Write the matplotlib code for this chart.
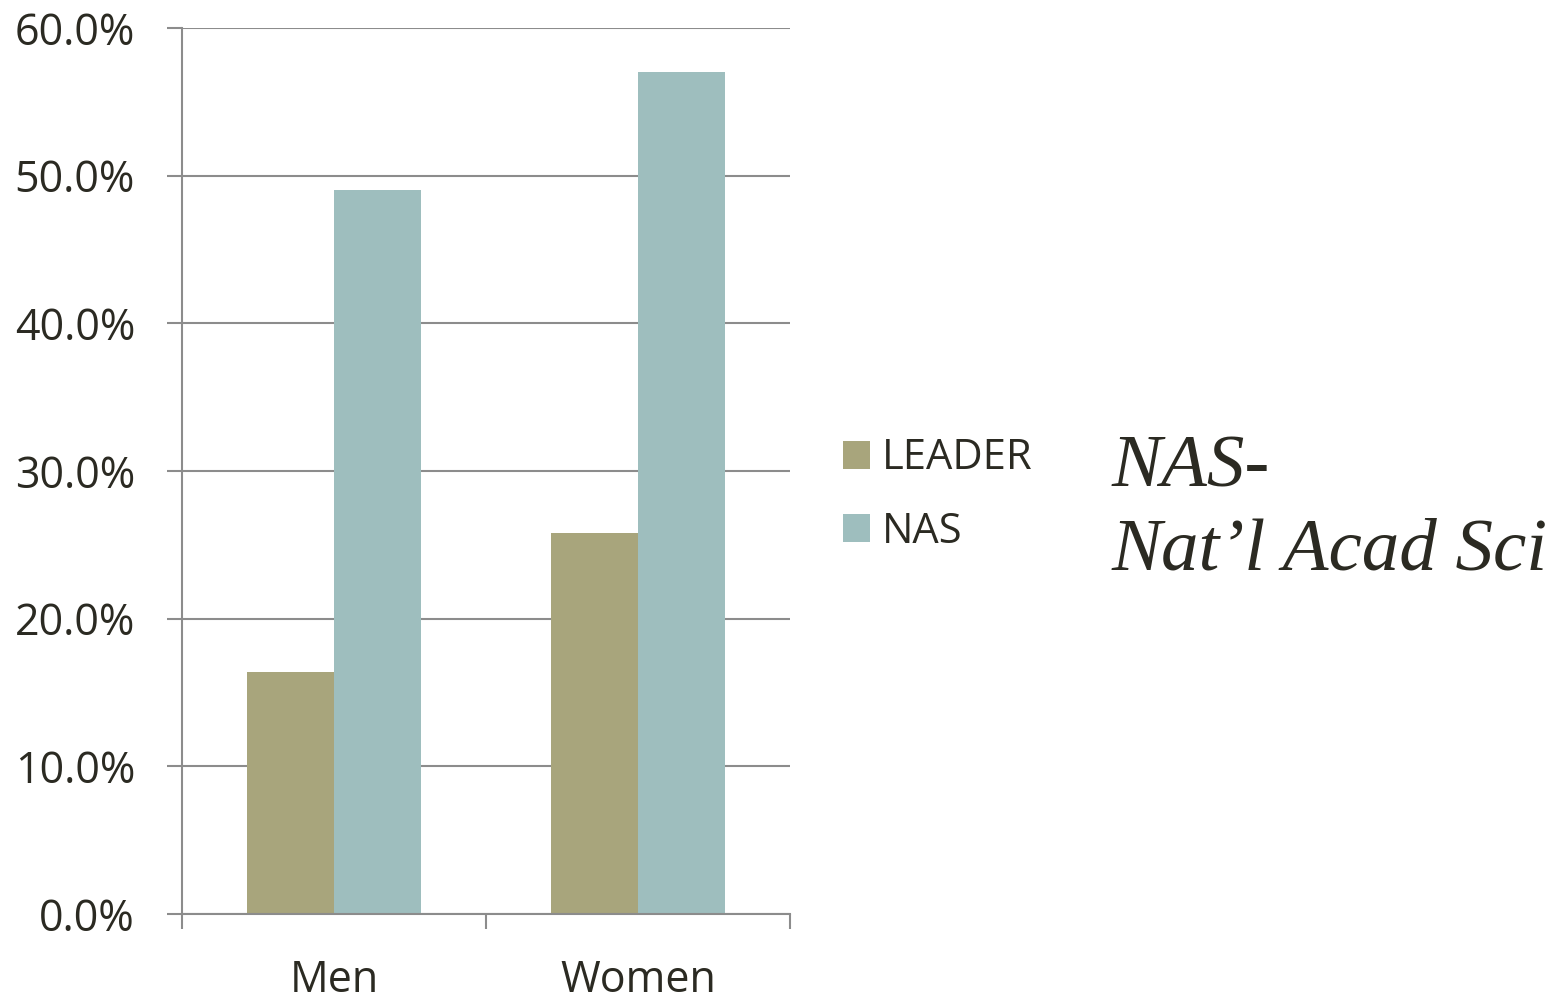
import numpy as np
import matplotlib.pyplot as plt
from matplotlib.ticker import PercentFormatter

# data
categories = ['Men', 'Women']
leader = [16.4, 25.8]
nas = [49.0, 57.0]
series_names = ['LEADER', 'NAS']
colors = ['#a8a57c', '#9ebebe']

txt = '#2b2a22'
grid = '#8c8c8c'
plt.rcParams['font.family'] = ['Open Sans', 'DejaVu Sans']

fig = plt.figure(figsize=(15.58, 9.96), dpi=100)
ax = fig.add_axes([182 / 1558, 1 - 914 / 996, (790 - 182) / 1558, (914 - 28) / 996])

x = np.arange(len(categories))
w = 0.286
b1 = ax.bar(x - w / 2, leader, w, color=colors[0], label=series_names[0])
b2 = ax.bar(x + w / 2, nas, w, color=colors[1], label=series_names[1])

ax.set_xlim(-0.5, 1.5)
ax.set_ylim(0, 60)
ax.set_yticks(np.arange(0, 61, 10))
ax.yaxis.set_major_formatter(PercentFormatter(decimals=1))
ax.set_axisbelow(True)
ax.grid(axis='y', color=grid, linewidth=1.5)

ax.set_xticks([-0.5, 0.5, 1.5], minor=False)
ax.set_xticklabels([])
ax.set_xticks(x, minor=True)
ax.set_xticklabels(categories, minor=True)
ax.tick_params(axis='x', which='major', length=10.8, width=1.5, color=grid)
ax.tick_params(axis='x', which='minor', length=0, pad=32, labelsize=31, labelcolor=txt)
ax.tick_params(axis='y', length=10.8, width=1.5, color=grid, labelsize=31, labelcolor=txt, pad=23)

for s in ['top', 'right']:
    ax.spines[s].set_visible(False)
for s in ['left', 'bottom']:
    ax.spines[s].set_color(grid)
    ax.spines[s].set_linewidth(1.5)

fig.legend(handles=[b1, b2], loc='center left', bbox_to_anchor=(843 / 1558, 1 - 495 / 996),
           frameon=False, fontsize=30, labelcolor=txt, handlelength=0.65, handleheight=0.65,
           handletextpad=0.28, labelspacing=0.75, borderpad=0, borderaxespad=0)

fig.text(1112 / 1558, 1 - 510 / 996, 'NAS-\nNat\u2019l Acad Sci', family='Liberation Serif',
         style='italic', fontsize=54, color=txt, va='center', ha='left', linespacing=1.3)

fig.savefig('out.png', dpi=100)
